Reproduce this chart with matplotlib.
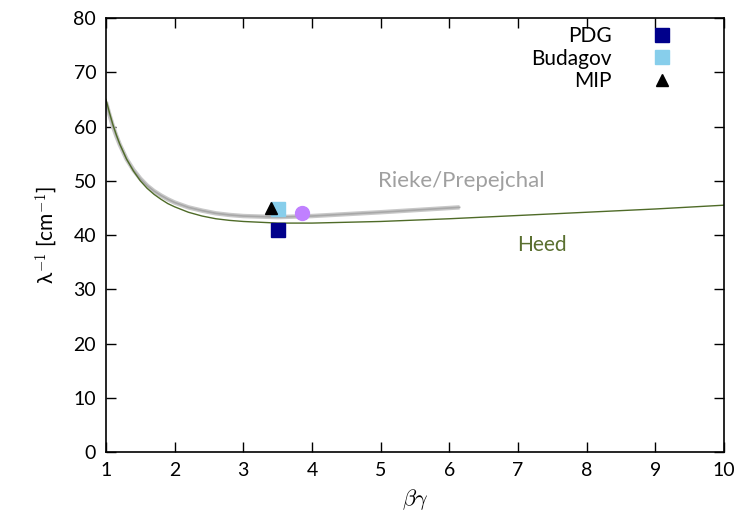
import matplotlib
matplotlib.use("Agg")
import matplotlib.pyplot as plt

plt.rcParams['font.family'] = ['Lato', 'DejaVu Sans']
plt.rcParams['mathtext.fontset'] = 'cm'

# Heed curve
heed_x = [1.0, 1.05, 1.1, 1.15, 1.2, 1.3, 1.4, 1.5, 1.6, 1.7, 1.8, 1.9, 2.0, 2.2, 2.4,
          2.6, 2.8, 3.0, 3.5, 4.0, 5.0, 6.0, 7.0, 8.0, 9.0, 10.0]
heed_y = [65.0, 62.6, 60.4, 58.5, 56.8, 54.0, 51.8, 50.0, 48.6, 47.5, 46.6, 45.8, 45.2,
          44.2, 43.5, 43.0, 42.7, 42.5, 42.2, 42.2, 42.5, 43.0, 43.6, 44.2, 44.8, 45.5]

# Rieke/Prepejchal curve
rieke_x = [1.0, 1.05, 1.1, 1.15, 1.2, 1.3, 1.4, 1.5, 1.6, 1.7, 1.8, 1.9, 2.0, 2.2, 2.4,
           2.6, 2.8, 3.0, 3.5, 4.0, 5.0, 6.15]
rieke_y = [64.5, 62.2, 60.1, 58.3, 56.7, 54.0, 52.0, 50.4, 49.1, 48.1, 47.3, 46.6, 46.0,
           45.1, 44.5, 44.0, 43.7, 43.5, 43.3, 43.5, 44.2, 45.1]

# measurements
pdg = (3.5, 40.9)
budagov = (3.5, 44.8)
mip = (3.4, 44.9)
extra = (3.86, 44.0)

fig = plt.figure(figsize=(7.41, 5.22), dpi=100)
ax = fig.add_axes([0.143, 0.134, 0.834, 0.8315])

ax.plot(rieke_x, rieke_y, color='#c8c8c8', lw=3.2, solid_capstyle='butt')
ax.plot(rieke_x, rieke_y, color='#a8a8a8', lw=1.2)
ax.plot(heed_x, heed_y, color='#4f6b28', lw=1.0)

ax.plot(*pdg, 's', color='#00008b', ms=10, ls='none', label='PDG')
ax.plot(*budagov, 's', color='#87ceeb', ms=10, ls='none', label='Budagov')
ax.plot(*mip, '^', color='black', ms=8, ls='none', label='MIP')
ax.plot(*extra, 'o', color='#c080ff', ms=10, ls='none')

ax.text(6.18, 49.9, 'Rieke/Prepejchal', color='#a0a0a0', fontsize=16,
        ha='center', va='center')
ax.text(7.35, 38.2, 'Heed', color='#5a7030', fontsize=15,
        ha='center', va='center')

ax.set_xlim(1, 10)
ax.set_ylim(0, 80)
ax.set_xticks(range(1, 11))
ax.set_yticks(range(0, 81, 10))
ax.tick_params(direction='in', length=7, width=1, top=True, right=True,
               labelsize=14, pad=7)
for s in ax.spines.values():
    s.set_linewidth(1.2)

ax.set_xlabel(r'$\beta\gamma$', fontsize=16, labelpad=6)
ax.set_ylabel(r'λ$^{-1}$ [cm$^{-1}$]', fontsize=15, labelpad=10)

ax.legend(loc='upper right', bbox_to_anchor=(0.94, 1.015), frameon=False,
          markerfirst=False, fontsize=15, handlelength=1.0, handletextpad=1.9,
          labelspacing=0.12, borderaxespad=0.3)

fig.savefig('out.png', dpi=100)
